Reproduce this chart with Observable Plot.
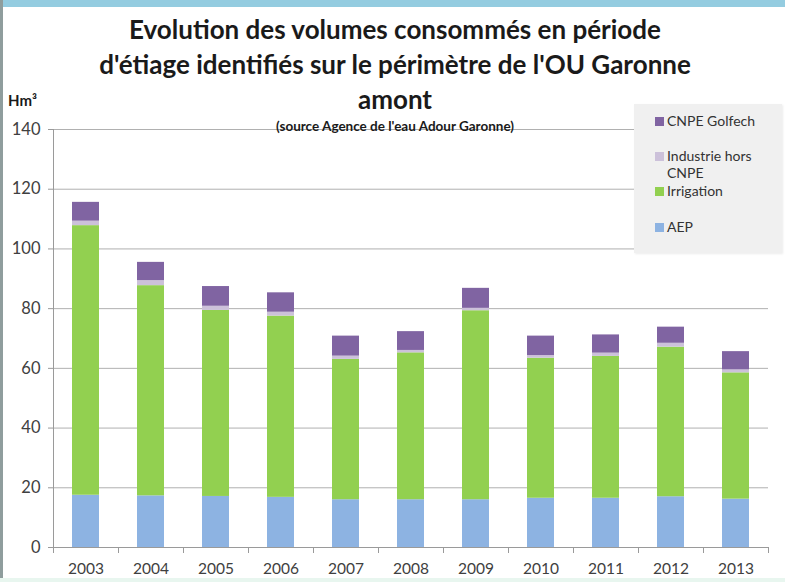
<!DOCTYPE html>
<html>
<head>
<meta charset="utf-8">
<script src="https://cdn.jsdelivr.net/npm/d3@7"></script>
<script src="https://cdn.jsdelivr.net/npm/@observablehq/plot@0.6"></script>
<style>
  html, body { margin: 0; padding: 0; background: #ffffff; }
  #wrap { position: relative; width: 785px; height: 582px; overflow: hidden; background: #fff; font-family: Lato, "Open Sans", sans-serif; }
  #chart { position: absolute; left: 0; top: 0; }
  .title { position: absolute; left: 0; width: 790px; text-align: center; font-weight: 700; color: #1a1a1a; white-space: nowrap; }
  #legend { position: absolute; left: 634px; top: 104px; width: 148px; height: 149px; background: #f0f0f0; box-shadow: 1px 1px 2px rgba(0,0,0,0.08); }
  .item { position: absolute; left: 21px; font-size: 14px; color: #333; line-height: 17px; }
  .sw { display: inline-block; width: 9px; height: 9px; margin-right: 3px; vertical-align: 0px; }
</style>
</head>
<body>
<div id="wrap">
  <div style="position:absolute;left:0;top:0;width:785px;height:7px;background:#94cce0;"></div>
  <div style="position:absolute;left:0;top:0;width:3px;height:582px;background:#8f9d9d;"></div>
  <div style="position:absolute;left:0;top:578px;width:785px;height:4px;background:#e8f6ef;"></div>
  <div id="chart"></div>
  <div class="title" style="top:13px;font-size:26px;">Evolution des volumes consommés en période</div>
  <div class="title" style="top:48px;font-size:26px;">d'étiage identifiés sur le périmètre de l'OU Garonne</div>
  <div class="title" style="top:83px;font-size:26px;">amont</div>
  <div class="title" style="top:118px;font-size:13.5px;">(source Agence de l'eau Adour Garonne)</div>
  <div style="position:absolute;left:8px;top:91px;font-size:15px;font-weight:700;color:#1a1a1a;">Hm³</div>
  <div id="legend"></div>
</div>
<script>
const years = ["2003","2004","2005","2006","2007","2008","2009","2010","2011","2012","2013"];
const aep        = [17.5, 17.3, 17.1, 16.8, 16.0, 16.0, 16.0, 16.5, 16.5, 17.0, 16.2];
const irrigation = [90.3, 70.4, 62.3, 60.7, 47.0, 49.2, 63.3, 46.9, 47.5, 50.1, 42.3];
const industrie  = [1.5, 1.7, 1.4, 1.3, 1.1, 0.8, 0.8, 0.9, 1.1, 1.3, 1.0];
const cnpe       = [6.3, 6.1, 6.6, 6.5, 6.7, 6.3, 6.7, 6.5, 6.1, 5.4, 6.1];
const seriesNames = ["AEP", "Irrigation", "Industrie hors CNPE", "CNPE Golfech"];
const seriesColors = ["#8db3e2", "#92d050", "#ccc1da", "#8064a2"];
const yTicks = [0, 20, 40, 60, 80, 100, 120, 140];
const legendOrder = ["CNPE Golfech", "Industrie hors CNPE", "Irrigation", "AEP"];

const seriesValues = [aep, irrigation, industrie, cnpe];
const data = [];
seriesNames.forEach((s, k) => years.forEach((y, i) => data.push({year: y, series: s, value: seriesValues[k][i]})));

const W = 785, H = 582, mL = 53, mR = 17, mT = 129, mB = 35;
const step = (W - mL - mR) / years.length;
const plotH = H - mT - mB;

const chart = Plot.plot({
  width: W, height: H,
  marginLeft: mL, marginRight: mR, marginTop: mT, marginBottom: mB,
  style: {fontFamily: "Lato, 'Open Sans', sans-serif", fontSize: "14px", color: "#404040", background: "transparent", overflow: "visible"},
  x: {domain: years, paddingInner: 0.58, paddingOuter: 0.29, label: null},
  y: {domain: [0, 140], label: null},
  color: {domain: seriesNames, range: seriesColors},
  marks: [
    Plot.gridY(yTicks, {stroke: "#b0b0b0", strokeOpacity: 1}),
    Plot.barY(data, {x: "year", y: "value", fill: "series"}),
    Plot.ruleY([0], {stroke: "#9a9a9a"}),
    Plot.ruleX([years[0]], {dx: -step / 2, stroke: "#9a9a9a"}),
    Plot.ruleX(years, {dx: -step / 2, stroke: "#9a9a9a", insetTop: plotH, insetBottom: -6}),
    Plot.ruleX([years[years.length - 1]], {dx: step / 2, stroke: "#9a9a9a", insetTop: plotH, insetBottom: -6}),
    Plot.axisY(yTicks, {tickSize: 5, tickPadding: 8, stroke: "#9a9a9a", fontSize: 16.5, label: null}),
    Plot.axisX({tickSize: 0, tickPadding: 15, fontSize: 15.5, label: null})
  ]
});
document.getElementById("chart").appendChild(chart);

const legend = document.getElementById("legend");
const legendTops = [8, 43, 78, 114];
legendOrder.forEach((name, i) => {
  const color = seriesColors[seriesNames.indexOf(name)];
  const div = document.createElement("div");
  div.className = "item";
  div.style.top = legendTops[i] + "px";
  if (name === "Industrie hors CNPE") {
    div.innerHTML = `<span class="sw" style="background:${color}"></span>Industrie hors<br><span style="padding-left:12px">CNPE</span>`;
  } else {
    div.innerHTML = `<span class="sw" style="background:${color}"></span>${name}`;
  }
  legend.appendChild(div);
});
</script>
</body>
</html>
